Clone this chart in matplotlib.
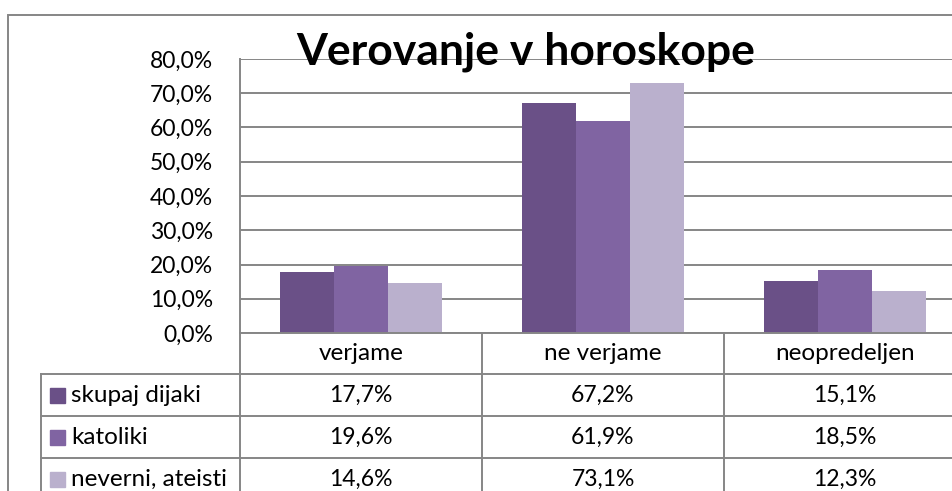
import numpy as np
import matplotlib.pyplot as plt
from matplotlib.lines import Line2D
from matplotlib.patches import Rectangle

# data
categories = ['verjame', 'ne verjame', 'neopredeljen']
series = ['skupaj dijaki', 'katoliki', 'neverni, ateisti']
values = {
    'skupaj dijaki': [17.7, 67.2, 15.1],
    'katoliki': [19.6, 61.9, 18.5],
    'neverni, ateisti': [14.6, 73.1, 12.3],
}
colors = ['#6A5087', '#8064A2', '#BAB0CD']
yticks = [0, 10, 20, 30, 40, 50, 60, 70, 80]

plt.rcParams['font.family'] = ['Lato', 'DejaVu Sans']

W, H = 952, 491
fig = plt.figure(figsize=(W / 100, H / 100), dpi=100)


def fx(x):
    return x / W


def fy(y):
    return 1 - y / H


def fmt(v):
    return f'{v:.1f}'.replace('.', ',') + '%'


grid_col = '#868686'
lw = 1.4
fs = 16.5      # numbers
fs_lab = 17.5  # word labels

# layout (pixels)
plot_l, plot_r, plot_t, plot_b = 240, 966, 59, 333
leg_l = 41
row_edges = [333, 374, 416, 458, 500]

ax = fig.add_axes([fx(plot_l), fy(plot_b), fx(plot_r) - fx(plot_l), fy(plot_t) - fy(plot_b)])
ax.set_xlim(-0.5, len(categories) - 0.5)
ax.set_ylim(0, 80)
ax.set_yticks(yticks)
ax.set_yticklabels([fmt(t) for t in yticks], fontsize=fs)
ax.set_xticks([])
for s in ['top', 'right', 'bottom']:
    ax.spines[s].set_visible(False)
ax.spines['left'].set_color(grid_col)
ax.spines['left'].set_linewidth(lw)
ax.tick_params(axis='y', length=0, pad=19.5)
ax.yaxis.grid(True, color=grid_col, lw=lw)
ax.set_axisbelow(True)

x = np.arange(len(categories))
bw = 0.223
for i, s in enumerate(series):
    ax.bar(x + (i - 1) * bw, values[s], width=bw, color=colors[i], zorder=3)

# title
fig.text(fx(526), fy(65), 'Verovanje v horoskope', fontsize=32, fontweight='bold',
         ha='center', va='baseline')

# outer border
fig.add_artist(Rectangle((fx(8), fy(600)), fx(1200), fy(15) - fy(600), transform=fig.transFigure,
                         fill=False, edgecolor=grid_col, lw=lw))


def hline(y, x0, x1):
    fig.add_artist(Line2D([fx(x0), fx(x1)], [fy(y), fy(y)], transform=fig.transFigure,
                          color=grid_col, lw=lw))


def vline(x, y0, y1):
    fig.add_artist(Line2D([fx(x), fx(x)], [fy(y0), fy(y1)], transform=fig.transFigure,
                          color=grid_col, lw=lw))


# data table
cat_w = (plot_r - plot_l) / len(categories)
hline(plot_b, plot_l, plot_r)
for y in row_edges[1:-1]:
    hline(y, leg_l, plot_r)
vline(plot_l, plot_b, 520)
vline(leg_l, row_edges[1], 520)
for j in range(1, len(categories)):
    vline(plot_l + j * cat_w, plot_b, 520)

for j, c in enumerate(categories):
    cx = plot_l + (j + 0.5) * cat_w
    fig.text(fx(cx), fy((row_edges[0] + row_edges[1]) / 2), c, fontsize=fs_lab,
             ha='center', va='center')

for i, s in enumerate(series):
    cy = (row_edges[i + 1] + row_edges[i + 2]) / 2
    fig.add_artist(Rectangle((fx(50), fy(cy + 7.5)), fx(15), fy(cy - 7.5) - fy(cy + 7.5),
                             transform=fig.transFigure, color=colors[i]))
    fig.text(fx(71), fy(cy), s, fontsize=fs_lab, ha='left', va='center')
    for j in range(len(categories)):
        cx = plot_l + (j + 0.5) * cat_w
        fig.text(fx(cx), fy(cy), fmt(values[s][j]), fontsize=fs, ha='center', va='center')

fig.savefig('out.png', dpi=100)
